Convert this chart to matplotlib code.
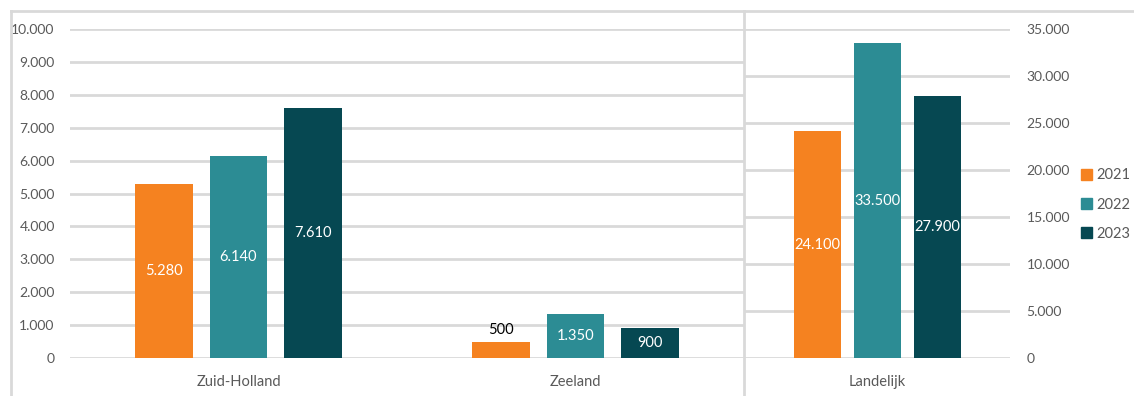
import numpy as np
import matplotlib.pyplot as plt
from matplotlib.lines import Line2D
from matplotlib.patches import Patch

plt.rcParams['font.family'] = ['Lato', 'DejaVu Sans']

years = ['2021', '2022', '2023']
regions = ['Zuid-Holland', 'Zeeland']
region_values = {
    '2021': [5280, 500],
    '2022': [6140, 1350],
    '2023': [7610, 900],
}
national_label = 'Landelijk'
national_values = [24100, 33500, 27900]

colors = ['#F58220', '#2C8C94', '#064852']
grid_color = '#D9D9D9'
text_gray = '#595959'


def nl(v):
    return f"{v:,}".replace(",", ".")


W, H = 1134, 396
fig = plt.figure(figsize=(W / 100, H / 100), dpi=100)

def box(x0, x1, y_top, y_bot):
    return [x0 / W, 1 - y_bot / H, (x1 - x0) / W, (y_bot - y_top) / H]

ax1 = fig.add_axes(box(70, 744, 29, 358))
ax2 = fig.add_axes(box(745, 1010, 29, 358))

width = 0.172
step = 0.222


def style(ax, ymax, yticks):
    ax.set_ylim(0, ymax)
    ax.set_yticks(yticks)
    ax.set_yticklabels([nl(t) for t in yticks])
    for s in ax.spines.values():
        s.set_visible(False)
    ax.grid(axis='y', color=grid_color, lw=2)
    ax.set_axisbelow(True)
    ax.tick_params(length=0, labelsize=10, labelcolor=text_gray)
    ax.tick_params(axis='x', pad=12, labelsize=10.5)


def label_bars(ax, bars, vals, ymax, small_frac=0.08):
    for b, v in zip(bars, vals):
        x = b.get_x() + b.get_width() / 2
        if v / ymax < small_frac:
            ax.text(x, v + ymax * 0.015, nl(v), ha='center', va='bottom',
                    color='black', fontsize=10.5)
        else:
            ax.text(x, v / 2, nl(v), ha='center', va='center',
                    color='white', fontsize=10.5)


# regional panel
x = np.arange(len(regions))
for i, yr in enumerate(years):
    vals = region_values[yr]
    bars = ax1.bar(x + (i - 1) * step, vals, width, color=colors[i], zorder=3)
    label_bars(ax1, bars, vals, 10000)
ax1.set_xlim(-0.5, len(regions) - 0.5)
ax1.set_xticks(x)
ax1.set_xticklabels(regions)
style(ax1, 10000, np.arange(0, 10001, 1000))
ax1.tick_params(axis='y', pad=11)

# national panel
xn = np.array([0.0])
width_n = 0.177
step_n = 0.226
for i, yr in enumerate(years):
    bars = ax2.bar(xn + (i - 1) * step_n, [national_values[i]], width_n,
                   color=colors[i], zorder=3)
    label_bars(ax2, bars, [national_values[i]], 35000)
ax2.set_xlim(-0.5, 0.5)
ax2.set_xticks(xn)
ax2.set_xticklabels([national_label])
style(ax2, 35000, np.arange(0, 35001, 5000))
ax2.yaxis.tick_right()
ax2.tick_params(axis='y', pad=12)
for t in ax2.get_yticklabels():
    t.set_horizontalalignment('left')

# outer frame and divider
fig.add_artist(Line2D([11 / W, 1], [1 - 11 / H] * 2, color=grid_color, lw=2))
fig.add_artist(Line2D([11 / W] * 2, [0, 1 - 11 / H], color=grid_color, lw=2))
fig.add_artist(Line2D([744 / W] * 2, [0, 1 - 11 / H], color=grid_color, lw=2))

handles = [Patch(color=c, label=y) for c, y in zip(colors, years)]
fig.legend(handles=handles, loc='upper left',
           bbox_to_anchor=(1074 / W, 1 - 161 / H), frameon=False,
           fontsize=10.5, handlelength=0.75, handleheight=0.75,
           handletextpad=0.3, labelspacing=1.05, borderpad=0,
           labelcolor=text_gray)

fig.savefig('out.png', dpi=100)
